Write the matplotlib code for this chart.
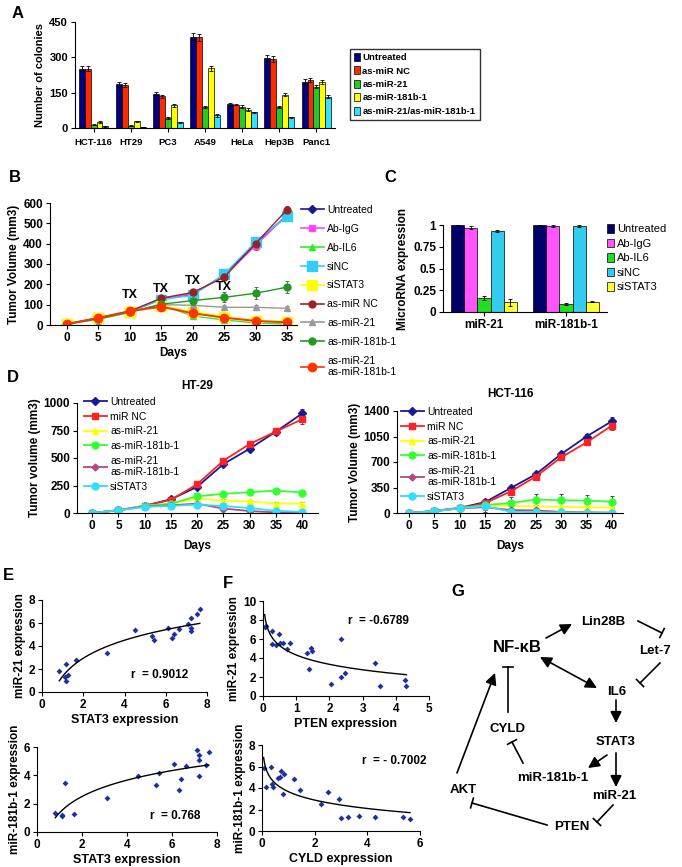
import numpy as np
import matplotlib.pyplot as plt
from matplotlib.lines import Line2D

plt.rcParams['font.family'] = ['Liberation Sans', 'DejaVu Sans']
plt.rcParams['axes.linewidth'] = 0.8
plt.rcParams['xtick.major.width'] = 0.8
plt.rcParams['ytick.major.width'] = 0.8

W, H = 682, 867

# ---- A: colony numbers
a_cells = ['HCT-116', 'HT29', 'PC3', 'A549', 'HeLa', 'Hep3B', 'Panc1']
a_groups = ['Untreated', 'as-miR NC', 'as-miR-21', 'as-miR-181b-1', 'as-miR-21/as-miR-181b-1']
a_untreated = [252, 186, 145, 388, 102, 296, 197]
a_nc = [252, 183, 135, 385, 99, 292, 204]
a_mir21 = [14, 10, 42, 89, 90, 89, 176]
a_mir181 = [25, 28, 96, 254, 78, 142, 195]
a_both = [7, 4, 24, 54, 66, 45, 133]
a_err_untreated = [12, 10, 6, 15, 3, 14, 10]
a_err_nc = [12, 10, 6, 16, 3, 12, 10]
a_err_mir21 = [3, 2, 4, 6, 6, 3, 7]
a_err_mir181 = [3, 2, 5, 11, 5, 7, 8]
a_err_both = [2, 1, 2, 6, 3, 2, 5]

# ---- B: xenograft, treatment
b_days = [0, 5, 10, 15, 20, 25, 30, 35]
b_labels = ['Untreated', 'Ab-IgG', 'Ab-IL6', 'siNC', 'siSTAT3', 'as-miR NC',
            'as-miR-21', 'as-miR-181b-1', 'as-miR-21\nas-miR-181b-1']
b_untreated = [5, 33, 66, 128, 150, 245, 400, 540]
b_abigg = [5, 33, 66, 125, 155, 240, 390, 540]
b_abil6 = [5, 28, 62, 100, 44, 25, 10, 5]
b_sinc = [5, 33, 66, 125, 146, 250, 408, 535]
b_sistat3 = [5, 33, 66, 95, 64, 41, 21, 16]
b_asnc = [5, 35, 68, 132, 160, 235, 400, 567]
b_as21 = [5, 30, 64, 100, 97, 87, 87, 82]
b_as181 = [5, 30, 64, 102, 120, 136, 156, 186]
b_both = [5, 35, 68, 90, 58, 36, 20, 13]
b_err_high = [3, 25, 20, 12, 10, 15, 20, 20]
b_err_low = [3, 25, 20, 12, 10, 10, 10, 10]
b_err_as181 = [3, 25, 20, 12, 12, 25, 30, 30]
b_tx_days = [10, 15, 20, 25]
b_tx_y = [146, 178, 214, 186]

# ---- C: microRNA expression
c_mirs = ['miR-21', 'miR-181b-1']
c_groups = ['Untreated', 'Ab-IgG', 'Ab-IL6', 'siNC', 'siSTAT3']
c_untreated = [1.0, 1.0]
c_abigg = [0.97, 0.99]
c_abil6 = [0.16, 0.09]
c_sinc = [0.93, 0.99]
c_sistat3 = [0.11, 0.12]
c_err = [[0, 0], [0.02, 0.01], [0.02, 0.01], [0.01, 0.01], [0.04, 0.01]]

# ---- D: HT-29 and HCT-116
d_days = [0, 5, 10, 15, 20, 25, 30, 35, 40]
d_labels = ['Untreated', 'miR NC', 'as-miR-21', 'as-miR-181b-1',
            'as-miR-21\nas-miR-181b-1', 'siSTAT3']
ht_untreated = [0, 25, 65, 125, 238, 445, 585, 740, 905]
ht_nc = [0, 25, 65, 120, 262, 476, 628, 741, 853]
ht_as21 = [0, 25, 65, 85, 131, 110, 105, 85, 85]
ht_as181 = [0, 25, 65, 85, 152, 174, 189, 204, 186]
ht_both = [0, 25, 60, 70, 85, 40, 18, 5, 3]
ht_sistat3 = [0, 25, 55, 65, 76, 64, 45, 20, 10]
ht_err_big = [0, 5, 10, 15, 15, 20, 25, 30, 40]
ht_err_small = [0, 5, 8, 10, 15, 15, 15, 15, 15]

hct_untreated = [0, 30, 70, 150, 341, 532, 809, 1050, 1260]
hct_nc = [0, 25, 65, 135, 295, 500, 764, 968, 1200]
hct_as21 = [0, 25, 65, 100, 100, 90, 85, 80, 75]
hct_as181 = [0, 25, 65, 110, 136, 185, 175, 170, 155]
hct_both = [0, 25, 65, 80, 40, 35, 15, 10, 5]
hct_sistat3 = [0, 25, 65, 95, 18, 10, 8, 5, 3]
hct_err_big = [0, 10, 15, 40, 30, 30, 30, 40, 60]
hct_err_as181 = [0, 10, 15, 30, 80, 80, 80, 80, 80]
hct_err_small = [0, 5, 10, 60, 15, 15, 10, 10, 10]

# ---- E: STAT3 vs miR-21 / miR-181b-1
e1_stat3 = [0.84, 1.16, 1.13, 1.16, 1.26, 1.66, 3.14, 4.51, 5.35, 5.43, 6.12,
            6.31, 6.41, 6.63, 7.10, 7.21, 7.21, 7.21, 7.50, 7.65]
e1_mir21 = [1.83, 2.41, 1.30, 0.93, 1.48, 2.76, 3.43, 5.38, 4.88, 4.50, 5.55,
            4.68, 5.03, 5.52, 5.90, 5.55, 5.29, 6.45, 6.80, 7.24]
e2_stat3 = [0.81, 1.11, 1.11, 1.23, 1.63, 3.11, 4.49, 5.30, 5.41, 6.10, 6.30,
            6.39, 6.60, 7.11, 7.20, 7.21, 7.21, 7.51, 7.63]
e2_mir181 = [1.34, 1.20, 1.10, 3.48, 1.25, 2.40, 3.98, 3.29, 4.19, 4.82, 2.99,
             3.72, 4.68, 5.79, 5.41, 5.06, 3.95, 4.70, 5.67]

# ---- F: PTEN vs miR-21, CYLD vs miR-181b-1
f1_pten = [0.05, 0.10, 0.27, 0.27, 0.40, 0.48, 0.50, 0.60, 0.73, 0.80, 1.33,
           1.39, 1.46, 1.48, 2.06, 2.34, 2.36, 2.46, 3.36, 3.51, 4.27, 4.32]
f1_mir21 = [7.29, 7.36, 6.83, 5.46, 5.42, 6.48, 5.53, 5.53, 4.96, 5.63, 4.54,
            2.89, 5.10, 4.75, 1.23, 5.95, 2.01, 2.46, 3.52, 1.06, 1.65, 1.06]
f2_cyld = [0.06, 0.15, 0.34, 0.38, 0.40, 0.59, 0.69, 0.73, 0.82, 0.78, 1.20,
           1.45, 2.24, 2.50, 2.94, 3.00, 3.27, 3.67, 4.28, 5.34, 5.62]
f2_mir181 = [5.89, 4.05, 5.98, 4.33, 4.05, 4.95, 4.98, 5.61, 5.26, 3.43, 4.86,
             3.83, 2.49, 3.61, 3.02, 1.25, 1.31, 1.40, 1.31, 1.31, 1.15]

fig = plt.figure(figsize=(W / 100, H / 100), dpi=100)


def fax(l, t, r, b):
    # axes from pixel box (left, top, right, bottom)
    return fig.add_axes([l / W, 1 - b / H, (r - l) / W, (b - t) / H])


def excel_style(ax, size=8):
    ax.spines['top'].set_visible(False)
    ax.spines['right'].set_visible(False)
    ax.tick_params(labelsize=size, length=3, pad=2)
    for lab in ax.get_xticklabels() + ax.get_yticklabels():
        lab.set_fontweight('bold')


def line_handles(styles, lw=1.2):
    return [Line2D([], [], color=c, marker=m, ms=s, lw=lw) for c, m, s in styles]


# ================= A =================
ax = fax(75, 22, 335, 128)
x = np.arange(len(a_cells))
bw = 0.16
a_cols = ['#000080', '#FF2A00', '#22CC22', '#FFFF00', '#33E0FF']
a_vals = [a_untreated, a_nc, a_mir21, a_mir181, a_both]
a_errs = [a_err_untreated, a_err_nc, a_err_mir21, a_err_mir181, a_err_both]
for i in range(5):
    ax.bar(x + (i - 2) * bw, a_vals[i], bw, yerr=a_errs[i], color=a_cols[i],
           edgecolor='black', lw=0.5, capsize=1.5,
           error_kw=dict(elinewidth=0.6, capthick=0.6), label=a_groups[i])
ax.set_xlim(-0.5, 6.5)
ax.set_ylim(0, 450)
ax.set_yticks([0, 150, 300, 450])
ax.set_xticks(x)
ax.set_xticklabels(a_cells)
ax.tick_params(axis='x', length=0)
ax.set_ylabel('Number of colonies', fontsize=8, fontweight='bold', labelpad=3)
excel_style(ax, 8)
ax.tick_params(axis='x', labelsize=6.8, pad=4)
ax.legend(loc='upper left', bbox_to_anchor=(345 / W, 1 - 44 / H),
          bbox_transform=fig.transFigure,
          prop=dict(weight='bold', size=6.8), frameon=True, fancybox=False,
          edgecolor='black', handlelength=0.6, handleheight=0.9,
          handletextpad=0.3, labelspacing=0.45, borderpad=0.45)

# ================= B =================
ax = fax(50, 203, 297, 325)
b_style = [('#1A1A8C', 'D', 4), ('#FF44FF', 's', 5), ('#33EE22', '^', 5),
           ('#33CCFF', 's', 7), ('#FFFF00', 's', 7), ('#992222', 'o', 5),
           ('#999999', '^', 5), ('#229922', 'o', 5), ('#FF3300', 'o', 6)]
b_vals = [b_untreated, b_abigg, b_abil6, b_sinc, b_sistat3, b_asnc, b_as21, b_as181, b_both]
b_errs = [b_err_high, b_err_high, b_err_low, b_err_high, b_err_low, b_err_high,
          b_err_low, b_err_as181, b_err_low]
for vals, err, (col, mk, ms) in zip(b_vals, b_errs, b_style):
    ax.errorbar(b_days, vals, yerr=err, color=col, marker=mk, ms=ms,
                lw=1.4 if col in ('#FF3300', '#FFFF00') else 1.0,
                ecolor='#555555', elinewidth=0.6, capsize=1.5, capthick=0.6)
for d, y in zip(b_tx_days, b_tx_y):
    ax.text(d, y, 'TX', ha='center', va='center', fontsize=9, fontweight='bold')
ax.set_xlim(-2.7, 36.6)
ax.set_ylim(0, 600)
ax.set_xticks(b_days)
ax.set_yticks(range(0, 601, 100))
ax.set_xlabel('Days', fontsize=8.5, fontweight='bold', labelpad=2)
ax.set_ylabel('Tumor Volume (mm3)', fontsize=8.5, fontweight='bold', labelpad=2)
excel_style(ax, 8.5)
ax.legend(line_handles(b_style), b_labels, loc='upper left',
          bbox_to_anchor=(301 / W, 1 - 205 / H),
          bbox_transform=fig.transFigure, frameon=False, fontsize=7.5,
          handlelength=2.2, handletextpad=0.3, labelspacing=0.85,
          borderpad=0, borderaxespad=0)

# ================= C =================
ax = fax(443, 225, 607, 312)
xc = np.arange(len(c_mirs))
c_cols = ['#000066', '#FF55FF', '#22DD22', '#33CCEE', '#FFFF33']
c_vals = [c_untreated, c_abigg, c_abil6, c_sinc, c_sistat3]
for i in range(5):
    ax.bar(xc + (i - 2) * 0.16, c_vals[i], 0.16, yerr=c_err[i], color=c_cols[i],
           edgecolor='black', lw=0.5, capsize=1.5,
           error_kw=dict(elinewidth=0.6, capthick=0.6), label=c_groups[i])
ax.set_xlim(-0.5, 1.5)
ax.set_ylim(0, 1.0)
ax.set_yticks([0, 0.25, 0.5, 0.75, 1])
ax.set_yticklabels(['0', '0.25', '0.5', '0.75', '1'])
ax.set_xticks(xc)
ax.set_xticklabels(c_mirs)
ax.tick_params(axis='x', length=0)
ax.set_ylabel('MicroRNA expression', fontsize=8.5, fontweight='bold', labelpad=3)
excel_style(ax, 8.5)
ax.legend(loc='upper left', bbox_to_anchor=(607 / W, 1 - 224 / H),
          bbox_transform=fig.transFigure, frameon=False, fontsize=8,
          handlelength=0.6, handleheight=0.8, handletextpad=0.3,
          labelspacing=0.4, borderpad=0, borderaxespad=0)

# ================= D =================
d_style = [('#1A1A99', 'D', 4), ('#FF2222', 's', 5), ('#FFFF00', '^', 5),
           ('#33FF33', 'o', 5), ('#B04A80', 'D', 3.5), ('#33DDFF', 'o', 5)]


def tumor_panel(box, series, errs, ymax, yticks, title, ylabel, xlim, leg_xy):
    ax = fax(*box)
    for vals, err, (col, mk, ms) in zip(series, errs, d_style):
        ax.errorbar(d_days, vals, yerr=err, color=col, marker=mk, ms=ms, lw=1.3,
                    ecolor='#333333', elinewidth=0.6, capsize=1.5, capthick=0.6)
    ax.set_xlim(*xlim)
    ax.set_ylim(0, ymax)
    ax.set_xticks(d_days)
    ax.set_yticks(yticks)
    ax.set_title(title, fontsize=8.5, fontweight='bold', pad=10)
    ax.set_xlabel('Days', fontsize=8.5, fontweight='bold', labelpad=6)
    ax.set_ylabel(ylabel, fontsize=8.5, fontweight='bold', labelpad=2)
    excel_style(ax, 8.5)
    ax.legend(line_handles(d_style, 1.3), d_labels, loc='upper left',
              bbox_to_anchor=(leg_xy[0] / W, 1 - leg_xy[1] / H),
              bbox_transform=fig.transFigure, frameon=False, fontsize=7.5,
              handlelength=2.2, handletextpad=0.3, labelspacing=0.45,
              borderpad=0, borderaxespad=0)


tumor_panel((77, 403, 318, 513),
            [ht_untreated, ht_nc, ht_as21, ht_as181, ht_both, ht_sistat3],
            [ht_err_big, ht_err_big, ht_err_small, ht_err_small, ht_err_small, ht_err_small],
            1000, [0, 250, 500, 750, 1000], 'HT-29', 'Tumor volume (mm3)',
            (-2.9, 43.0), (84, 397))
tumor_panel((397, 411, 623, 513),
            [hct_untreated, hct_nc, hct_as21, hct_as181, hct_both, hct_sistat3],
            [hct_err_big, hct_err_big, hct_err_small, hct_err_as181, hct_err_small, hct_err_small],
            1400, [0, 350, 700, 1050, 1400], 'HCT-116', 'Tumor Volume (mm3)',
            (-2.4, 42.2), (401, 407))


# ================= E / F =================
def scatter_panel(box, xs, ys, xlim, ylim, xticks, yticks, xlabel, ylabel, rtext, rxy):
    ax = fax(*box)
    xs = np.asarray(xs)
    ys = np.asarray(ys)
    ax.plot(xs, ys, 'D', color='#1F2F9F', ms=3, mew=0)
    a, b = np.polyfit(np.log(xs), ys, 1)
    xf = np.linspace(xs.min(), xs.max(), 200)
    ax.plot(xf, a * np.log(xf) + b, color='black', lw=1.0)
    ax.set_xlim(*xlim)
    ax.set_ylim(*ylim)
    ax.set_xticks(xticks)
    ax.set_yticks(yticks)
    ax.set_xlabel(xlabel, fontsize=9, fontweight='bold', labelpad=2)
    ax.set_ylabel(ylabel, fontsize=8.5, fontweight='bold', labelpad=2)
    ax.text(rxy[0], rxy[1], rtext, fontsize=8.5, fontweight='bold', va='center')
    excel_style(ax, 8.5)


scatter_panel((42, 600, 207, 692), e1_stat3, e1_mir21, (0, 8), (0, 8),
              range(0, 9, 2), range(0, 9, 2), 'STAT3 expression',
              'miR-21 expression', 'r  = 0.9012', (4.3, 1.5))
scatter_panel((37, 747, 217, 832), e2_stat3, e2_mir181, (0, 8), (0, 6),
              range(0, 9, 2), range(0, 7, 2), 'STAT3 expression',
              'miR-181b-1 expression', 'r  = 0.768', (5.0, 1.1))
scatter_panel((263, 601, 429, 696), f1_pten, f1_mir21, (0, 5), (0, 10),
              range(0, 6), range(0, 11, 2), 'PTEN expression',
              'miR-21 expression', 'r  = -0.6789', (2.55, 7.9))
scatter_panel((262, 745, 420, 831), f2_cyld, f2_mir181, (0, 6), (0, 8),
              range(0, 7, 2), range(0, 9, 2), 'CYLD expression',
              'miR-181b-1 expression', 'r  = - 0.7002', (3.8, 6.5))

# ================= overlay: panel letters + G diagram =================
ov = fig.add_axes([0, 0, 1, 1], facecolor='none')
ov.set_xlim(0, W)
ov.set_ylim(H, 0)
ov.axis('off')

for letter, (lx, ly) in zip('ABCDEFG', [(18, 13), (15, 178), (390, 178), (13, 378),
                                        (8, 575), (228, 583), (458, 592)]):
    ov.text(lx, ly, letter, fontsize=12, fontweight='bold', ha='center', va='center')

nodes = {'NF-\u03baB': (517, 648, 12), 'Lin28B': (603, 622, 9.5), 'Let-7': (655, 651, 9.5),
         'IL6': (617, 692, 9.5), 'STAT3': (616, 742, 9.5), 'CYLD': (508, 729, 9.5),
         'miR-181b-1': (553, 778, 9.5), 'miR-21': (614, 796, 9.5), 'AKT': (463, 790, 9.5),
         'PTEN': (572, 827, 9.5)}
for name, (nx, ny, fs) in nodes.items():
    ov.text(nx, ny, name, fontsize=fs, fontweight='bold', ha='center', va='center')


def arrow(x0, y0, x1, y1, style='-|>'):
    ov.annotate('', xy=(x1, y1), xytext=(x0, y0),
                arrowprops=dict(arrowstyle=style, color='black', lw=1.2,
                                mutation_scale=17, shrinkA=0, shrinkB=0))


def tee(x0, y0, x1, y1, half=5):
    ov.plot([x0, x1], [y0, y1], color='black', lw=1.2)
    dx, dy = x1 - x0, y1 - y0
    n = np.hypot(dx, dy)
    px, py = -dy / n * half, dx / n * half
    ov.plot([x1 - px, x1 + px], [y1 - py, y1 + py], color='black', lw=1.2)


arrow(546, 638, 572, 624)
arrow(540, 657, 597, 688, '<|-|>')
arrow(616, 700, 616, 723)
arrow(607, 755, 588, 768)
arrow(616, 753, 616, 787)
arrow(457, 773, 495, 673)
tee(638, 621, 662, 633)
tee(660, 663, 640, 683)
tee(613, 805, 597, 822)
tee(547, 825, 472, 803)
tee(508, 712, 508, 667)
tee(523, 763, 512, 742)

fig.savefig('out.png', dpi=100)
